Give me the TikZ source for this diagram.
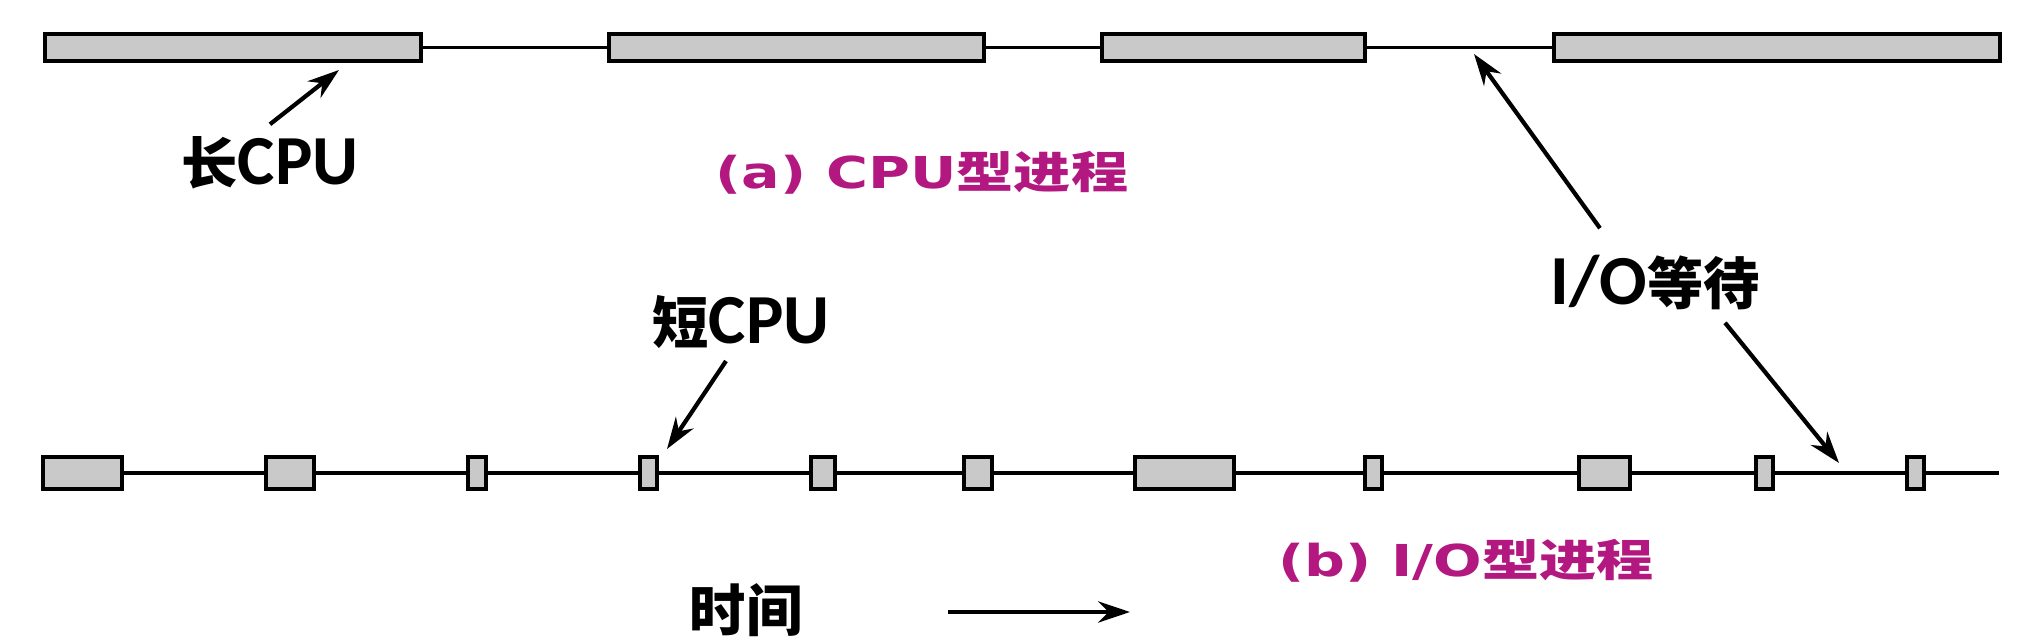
\documentclass[tikz,border=0pt]{standalone}
\usepackage{fontspec}
\usepackage{graphicx}
\usepackage{tikz}
\usetikzlibrary{positioning}
\usetikzlibrary{arrows,arrows.meta}

\newfontfamily\cjk{Noto Sans CJK SC}
\newfontfamily\latb{Carlito}
\newfontfamily\latm{DejaVu Sans}
\definecolor{capmag}{RGB}{178,24,128}

\newcommand{\zhtxt}[1]{{\cjk\bfseries\fontsize{16}{16}\selectfont #1}}
\newcommand{\entxt}[1]{{\latb\bfseries\fontsize{20}{20}\selectfont #1}}
\newcommand{\captxt}[2]{\scalebox{1.3}[1]{\color{capmag}\fontsize{12.5}{12.5}\selectfont{\latm\bfseries #1}{\cjk\bfseries #2}}}

\begin{document}
\begin{tikzpicture}[x=0.01cm,y=-0.01cm,>={Stealth[length=9pt,width=6pt]},
	cpu/.style={draw,fill=black!21,line width=1.3pt,inner sep=0pt,outer sep=0pt},
	wait/.style={line width=0.9pt},
	pointer/.style={->,line width=1.2pt},
	]
	\useasboundingbox (0,0) rectangle (2042,640);

	% (a) CPU-bound
	\node[cpu,minimum width=3.76cm,minimum height=0.27cm] (a1) at (233,47.5) {};
	\node[cpu,minimum width=3.75cm,minimum height=0.27cm] (a2) at (796.5,47.5) {};
	\node[cpu,minimum width=2.63cm,minimum height=0.27cm] (a3) at (1233.5,47.5) {};
	\node[cpu,minimum width=4.46cm,minimum height=0.27cm] (a4) at (1777,47.5) {};
	\draw[wait] (a1) -- (a2);
	\draw[wait] (a2) -- (a3);
	\draw[wait] (a3) -- (a4);

	% (b) I/O-bound
	\node[cpu,minimum width=0.79cm,minimum height=0.32cm] (b1) at (82.5,473) {};
	\node[cpu,minimum width=0.48cm,minimum height=0.32cm] (b2) at (290,473) {};
	\node[cpu,minimum width=0.18cm,minimum height=0.32cm] (b3) at (477,473) {};
	\node[cpu,minimum width=0.17cm,minimum height=0.32cm] (b4) at (648.5,473) {};
	\node[cpu,minimum width=0.24cm,minimum height=0.32cm] (b5) at (823,473) {};
	\node[cpu,minimum width=0.28cm,minimum height=0.32cm] (b6) at (978,473) {};
	\node[cpu,minimum width=0.99cm,minimum height=0.32cm] (b7) at (1184.5,473) {};
	\node[cpu,minimum width=0.17cm,minimum height=0.32cm] (b8) at (1373.5,473) {};
	\node[cpu,minimum width=0.51cm,minimum height=0.32cm] (b9) at (1604.5,473) {};
	\node[cpu,minimum width=0.17cm,minimum height=0.32cm] (b10) at (1764.5,473) {};
	\node[cpu,minimum width=0.17cm,minimum height=0.32cm] (b11) at (1915.5,473) {};
	\coordinate (bend) at (1999,473);
	\foreach \p/\q in {b1/b2,b2/b3,b3/b4,b4/b5,b5/b6,b6/b7,b7/b8,b8/b9,b9/b10,b10/b11,b11/bend}
		\draw[wait] (\p) -- (\q);

	% labels
	\node (lcpu) at (270,163) {\zhtxt{长}\entxt{CPU}};
	\node (scpu) at (741,322) {\zhtxt{短}\entxt{CPU}};
	\node (iow) at (1655,283) {\entxt{I/O}\zhtxt{等待}};
	\node (time) at (746,610) {\zhtxt{时间}};
	\node (capA) at (922,173) {\captxt{(a) CPU}{型进程}};
	\node (capB) at (1466,561) {\captxt{(b) I/O}{型进程}};

	% pointers
	\coordinate (lcpuT) at (339,70);
	\coordinate (scpuT) at (667,449);
	\coordinate (iowA) at (1474,54);
	\coordinate (iowB) at (1839,463);
	\coordinate (t0) at (948,612);
	\coordinate (t1) at (1130,612);
	\draw[pointer] (lcpu.north) -- (lcpuT);
	\draw[pointer] ([xshift=-0.15cm]scpu.south) -- (scpuT);
	\draw[pointer] ([xshift=-0.55cm,yshift=0.15cm]iow.north) -- (iowA);
	\draw[pointer] ([xshift=0.7cm]iow.south) -- (iowB);
	\draw[pointer] (t0) -- (t1);
\end{tikzpicture}
\end{document}
